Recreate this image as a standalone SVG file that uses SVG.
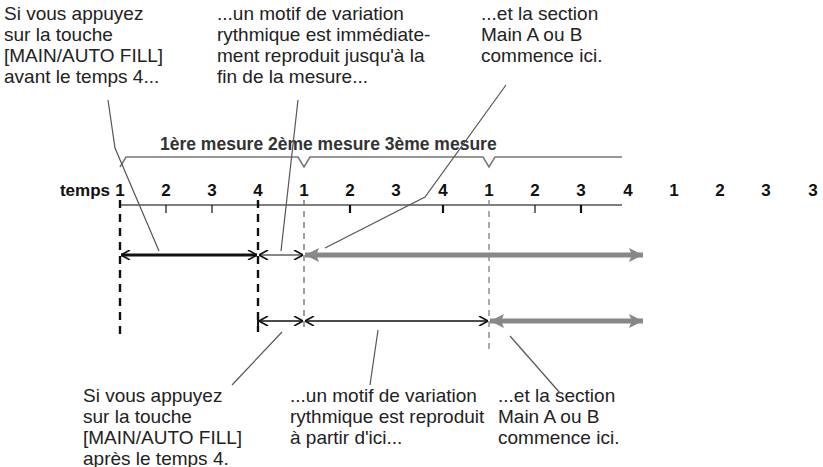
<svg xmlns="http://www.w3.org/2000/svg" width="823" height="467" viewBox="0 0 823 467">
<defs>
<style>
.t{font-family:"Liberation Sans",Arial,sans-serif;font-size:19px;fill:#222}
.b{font-family:"Liberation Sans",Arial,sans-serif;font-size:17px;font-weight:bold;fill:#111}
.m{font-family:"Liberation Sans",Arial,sans-serif;font-size:17.5px;font-weight:bold;fill:#333}
.ld{stroke:#555;stroke-width:1.2;fill:none}
</style>
<marker id="ah" viewBox="0 0 10 10" refX="10" refY="5" markerWidth="10" markerHeight="10" markerUnits="userSpaceOnUse" orient="auto-start-reverse"><path d="M1,0 L10,5 L1,10" fill="none" stroke="#111" stroke-width="1.6"/></marker>
<marker id="gh" viewBox="0 0 10 10" refX="10" refY="5" markerWidth="14" markerHeight="14" markerUnits="userSpaceOnUse" orient="auto-start-reverse"><path d="M0,0 L10,5 L0,10 L2,5 Z" fill="#888"/></marker>
</defs>
<g id="labels-top">
<text class="t" x="4" y="20">Si vous appuyez</text><text class="t" x="4" y="41">sur la touche</text><text class="t" x="4" y="62">[MAIN/AUTO FILL]</text><text class="t" x="4" y="83">avant le temps 4...</text>
<text class="t" x="217" y="20">...un motif de variation</text><text class="t" x="217" y="41">rythmique est immédiate-</text><text class="t" x="217" y="62">ment reproduit jusqu'à la</text><text class="t" x="217" y="83">fin de la mesure...</text>
<text class="t" x="481" y="20">...et la section</text><text class="t" x="481" y="41">Main A ou B</text><text class="t" x="481" y="62">commence ici.</text>
</g>
<g id="labels-bottom">
<text class="t" x="83" y="402">Si vous appuyez</text><text class="t" x="83" y="423">sur la touche</text><text class="t" x="83" y="444">[MAIN/AUTO FILL]</text><text class="t" x="83" y="465">après le temps 4.</text>
<text class="t" x="290" y="402">...un motif de variation</text><text class="t" x="290" y="423">rythmique est reproduit</text><text class="t" x="290" y="444">à partir d'ici...</text>
<text class="t" x="498" y="402">...et la section</text><text class="t" x="498" y="423">Main A ou B</text><text class="t" x="498" y="444">commence ici.</text>
</g>
<g id="measures">
<path d="M120,167 L126,157 L298,157 L304,167 L310,157 L483,157 L489,167 L495,157 L622,157" fill="none" stroke="#777" stroke-width="1.5"/>
<text class="m" x="160" y="150">1ère mesure 2ème mesure 3ème mesure</text>
</g>
<g id="timeline">
<text class="b" x="110" y="196" text-anchor="end">temps</text>
<g class="b" text-anchor="middle">
<text x="120" y="196">1</text><text x="166" y="196">2</text><text x="212" y="196">3</text><text x="258" y="196">4</text>
<text x="304" y="196">1</text><text x="350" y="196">2</text><text x="396" y="196">3</text><text x="443" y="196">4</text>
<text x="489" y="196">1</text><text x="535" y="196">2</text><text x="581" y="196">3</text><text x="628" y="196">4</text>
<text x="674" y="196">1</text><text x="720" y="196">2</text><text x="766" y="196">3</text><text x="813" y="196">3</text>
</g>
<line x1="120" y1="205" x2="622" y2="205" stroke="#555" stroke-width="1.3"/>
<g stroke="#111" stroke-width="1.2"><line x1="166" y1="205" x2="166" y2="213"/><line x1="212" y1="205" x2="212" y2="213"/><line x1="535" y1="205" x2="535" y2="213"/></g>
<g stroke="#111" stroke-width="2.2"><line x1="350" y1="205" x2="350" y2="213"/><line x1="443" y1="205" x2="443" y2="213"/><line x1="581" y1="205" x2="581" y2="213"/></g>
</g>
<g id="guides">
<line x1="120" y1="200" x2="120" y2="340" stroke="#111" stroke-width="2.4" stroke-dasharray="8,6"/>
<line x1="258" y1="200" x2="258" y2="332" stroke="#111" stroke-width="2.4" stroke-dasharray="8,6"/>
<line x1="304" y1="200" x2="304" y2="332" stroke="#777" stroke-width="1.4" stroke-dasharray="6,5"/>
<line x1="489" y1="200" x2="489" y2="352" stroke="#888" stroke-width="1.4" stroke-dasharray="6,5"/>
</g>
<g id="connectors">
<line x1="121" y1="255" x2="257" y2="255" stroke="#111" stroke-width="3" marker-start="url(#ah)" marker-end="url(#ah)"/>
<line x1="259" y1="255" x2="303" y2="255" stroke="#111" stroke-width="1" marker-start="url(#ah)" marker-end="url(#ah)"/>
<line x1="305" y1="255" x2="643" y2="255" stroke="#888" stroke-width="5" marker-start="url(#gh)" marker-end="url(#gh)"/>
<line x1="258" y1="313" x2="258" y2="328" stroke="#111" stroke-width="2"/>
<line x1="259" y1="321" x2="303" y2="321" stroke="#111" stroke-width="1.5" marker-start="url(#ah)" marker-end="url(#ah)"/>
<line x1="305" y1="321" x2="488" y2="321" stroke="#111" stroke-width="1.5" marker-start="url(#ah)" marker-end="url(#ah)"/>
<line x1="490" y1="321" x2="643" y2="321" stroke="#888" stroke-width="5" marker-start="url(#gh)" marker-end="url(#gh)"/>
<polyline class="ld" points="108,100 115,148 159,251"/>
<line class="ld" x1="298" y1="100" x2="281" y2="251"/>
<polyline class="ld" points="506,85 425,197 325,248"/>
<line class="ld" x1="282" y1="332" x2="232" y2="385"/>
<line class="ld" x1="378" y1="330" x2="370" y2="385"/>
<line class="ld" x1="510" y1="336" x2="560" y2="393"/>
</g>
</svg>
